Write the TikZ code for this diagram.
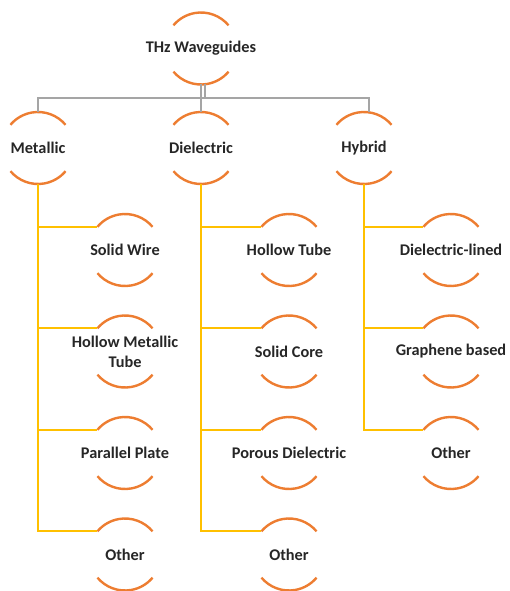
\documentclass[tikz,border=0pt]{standalone}
\usepackage{fontspec}
\setmainfont{Carlito}
\definecolor{arcor}{HTML}{ED7D31}
\definecolor{conny}{HTML}{FFC000}
\definecolor{congr}{HTML}{A5A5A5}
\definecolor{txtc}{HTML}{262626}
\begin{document}
\begin{tikzpicture}[x=1pt,y=1pt,
  txt/.style={font=\fontsize{16.3}{20}\selectfont\bfseries, text=txtc, align=center, inner sep=0pt},
  wg/.style={circle, minimum size=72pt, inner sep=0pt, outer sep=0pt, label={[txt]center:#1}},
  arcst/.style={draw=arcor, line width=2.4pt},
  ylw/.style={draw=conny, line width=2pt},
  gry/.style={draw=congr, line width=2pt}]
\useasboundingbox (0,0) rectangle (510,-591);
% nodes
\node[wg={THz Waveguides}] (root) at (201,-48.5) {};
\node[wg={Metallic}] (M) at (38,-148) {};
\node[wg={Dielectric}] (D) at (201,-148) {};
\node[wg={Hybrid}] (H) at (364,-148) {};
% metallic children
\node[wg={Solid Wire}] (m1) at (125,-250) {};
\node[wg={Hollow Metallic\\Tube}] (m2) at (125,-351.5) {};
\node[wg={Parallel Plate}] (m3) at (125,-453) {};
\node[wg={Other}] (m4) at (125,-554.5) {};
% dielectric children
\node[wg={Hollow Tube}] (d1) at (289,-250) {};
\node[wg={Solid Core}] (d2) at (289,-351.5) {};
\node[wg={Porous Dielectric}] (d3) at (289,-453) {};
\node[wg={Other}] (d4) at (289,-554.5) {};
% hybrid children
\node[wg={Dielectric-lined}] (h1) at (451,-250) {};
\node[wg={Graphene based}] (h2) at (451,-351.5) {};
\node[wg={Other}] (h3) at (451,-453) {};
% arcs
\foreach \n in {root,M,D,H,m1,m2,m3,m4,d1,d2,d3,d4,h1,h2,h3}{
  \draw[arcst] (\n.40) arc[start angle=40,end angle=140,radius=36pt];
  \draw[arcst] (\n.220) arc[start angle=220,end angle=320,radius=36pt];
}
% gray connectors
\draw[gry] (root.south) -- (D.north);
\draw[gry] ([xshift=4pt]root.south) -- ++(0,-13.5) -| (M.north);
\draw[gry] ([xshift=4pt]root.south) -- ++(0,-13.5) -| (H.82);
% yellow connectors
\foreach \p/\c in {M/m1,M/m2,M/m3,M/m4,D/d1,D/d2,D/d3,D/d4,H/h1,H/h2,H/h3}{
  \draw[ylw] (\p.south) |- (\c.140);
}
\end{tikzpicture}
\end{document}
